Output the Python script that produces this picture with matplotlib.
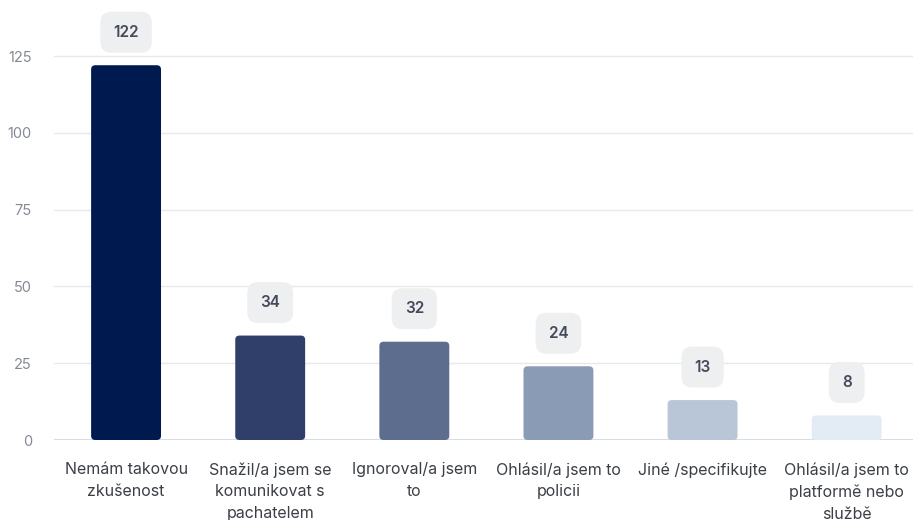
import numpy as np
import matplotlib.pyplot as plt
from matplotlib.patches import FancyBboxPatch

# data
categories = ["Nemám takovou\nzkušenost",
              "Snažil/a jsem se\nkomunikovat s\npachatelem",
              "Ignoroval/a jsem\nto",
              "Ohlásil/a jsem to\npolicii",
              "Jiné /specifikujte",
              "Ohlásil/a jsem to\nplatformě nebo\nslužbě"]
counts = [122, 34, 32, 24, 13, 8]
bar_colors = ["#001a4f", "#303f69", "#5d6d8d", "#8a9bb5", "#b9c6d7", "#e3ebf4"]
yticks = [0, 25, 50, 75, 100, 125]

plt.rcParams['font.family'] = ['Inter', 'DejaVu Sans']

fig = plt.figure(figsize=(9.13, 5.2), dpi=100)
ax = fig.add_axes([54/913, 80/520, 1 - 54/913, 1 - 93/520])

x = np.arange(len(counts))
bars = ax.bar(x, counts, width=0.485, color=bar_colors, zorder=3)

# swap plain bars for slightly rounded ones
for b in bars:
    b.set_visible(False)
    r = FancyBboxPatch((b.get_x(), b.get_y()), b.get_width(), b.get_height(),
                       boxstyle="round,pad=0,rounding_size=0.03",
                       mutation_aspect=45, facecolor=b.get_facecolor(),
                       edgecolor="none", zorder=3)
    ax.add_patch(r)

# value badges above bars
for xi, v in zip(x, counts):
    ax.annotate(str(v), (xi, v), xytext=(0, 33), textcoords="offset pixels",
                ha="center", va="center", fontsize=11, fontweight="semibold",
                color="#434a5a", zorder=4,
                bbox=dict(boxstyle="round,pad=0.85,rounding_size=0.7",
                          facecolor="#eeeff1", edgecolor="none"))

ax.set_xlim(-0.5, 5.46)
ax.set_ylim(0, 139)
ax.set_yticks(yticks)
ax.set_xticks(x)
ax.set_xticklabels(categories, fontsize=11.5, color="#3b3f46", linespacing=1.55)
ax.tick_params(axis="y", length=0, pad=16, labelsize=10.5, labelcolor="#858a92")
ax.tick_params(axis="x", length=0, pad=16)
ax.grid(axis="y", color="#e8e9eb", linewidth=1, zorder=0)
for s in ax.spines.values():
    s.set_visible(False)
ax.axhline(0, color="#d6dce8", linewidth=1.5, zorder=2)

fig.savefig("out.png", dpi=100)
